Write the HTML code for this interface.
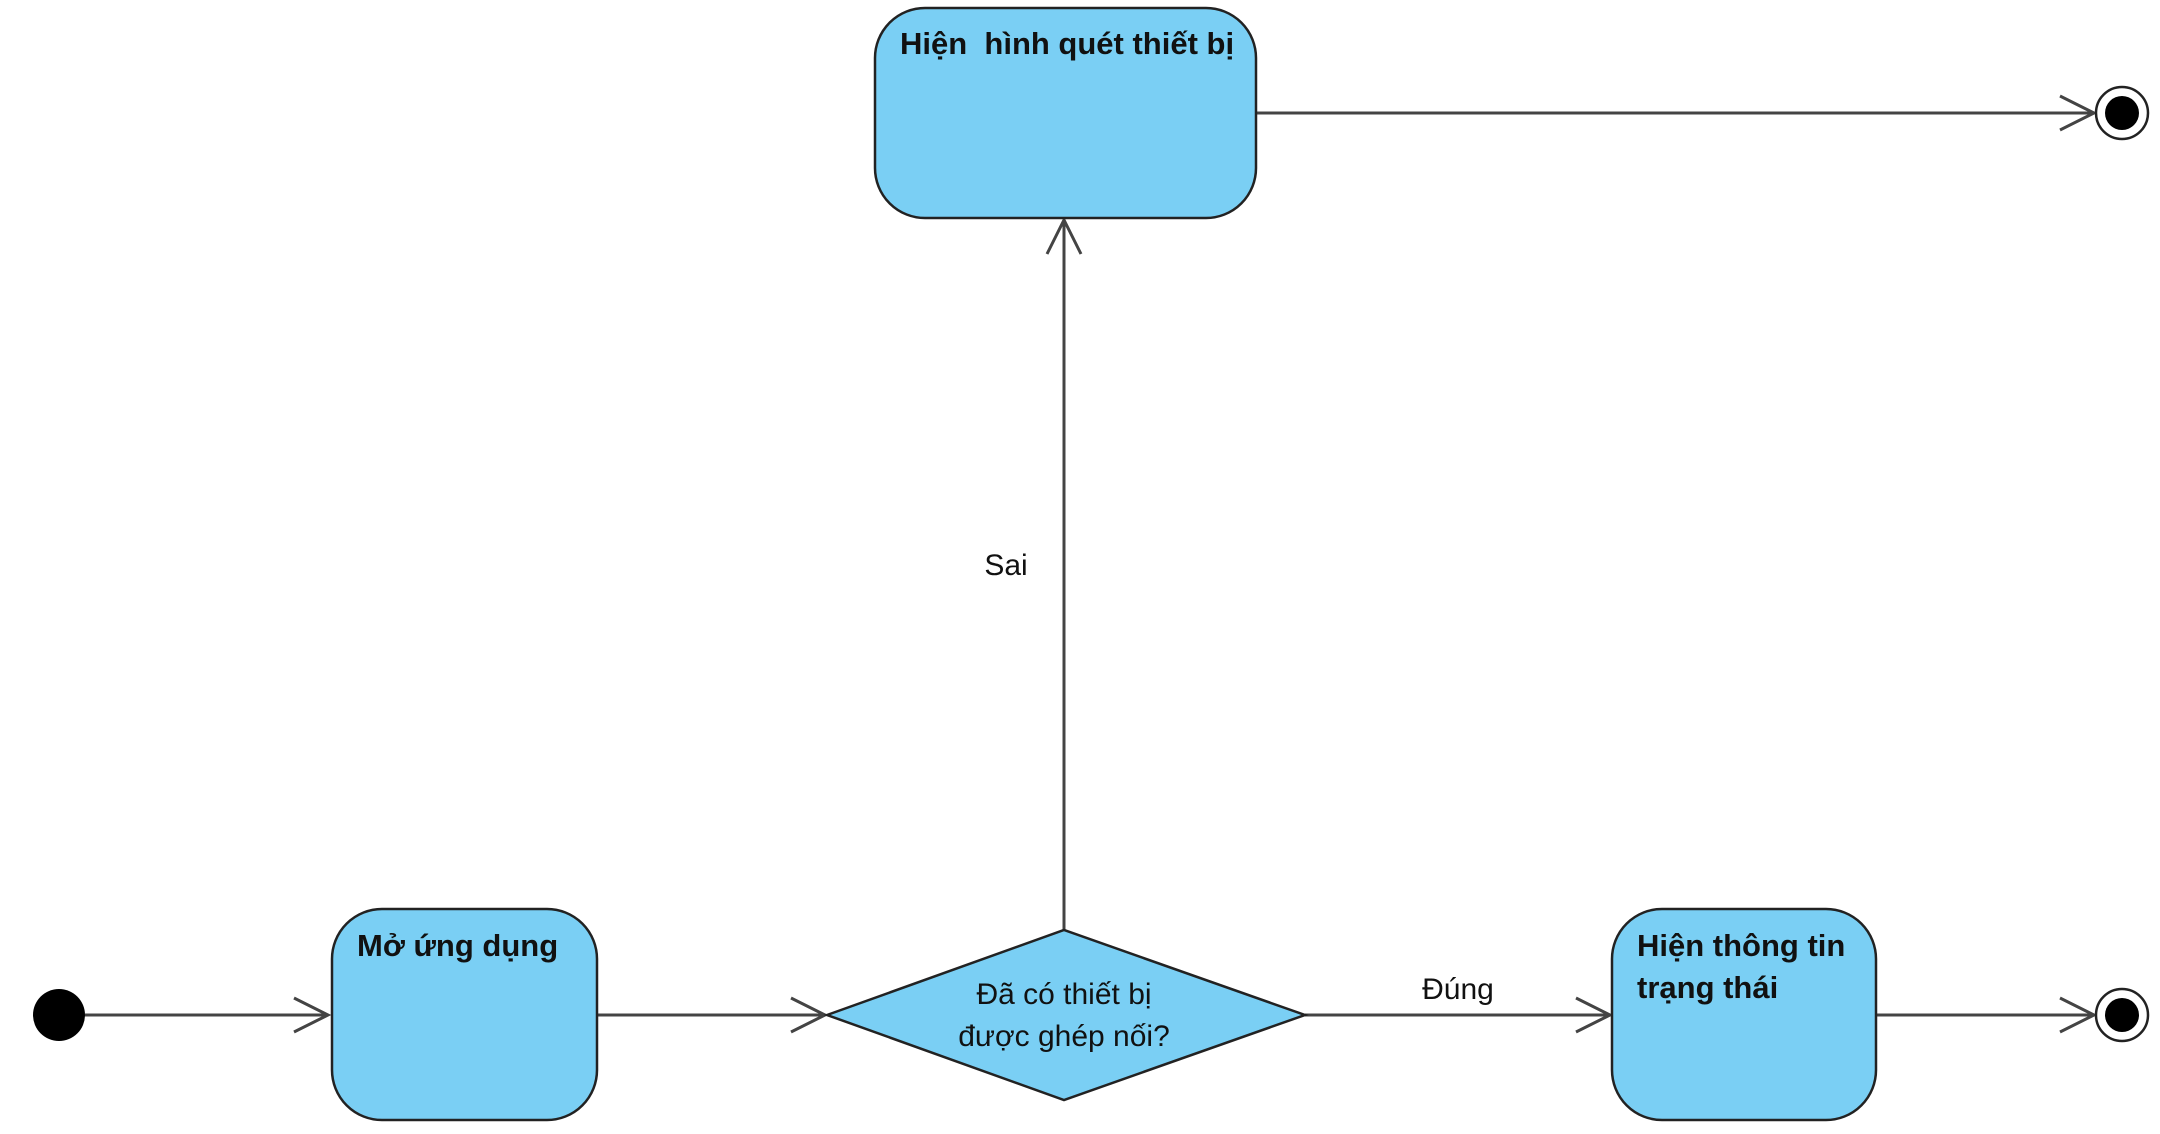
<!DOCTYPE html>
<html><head><meta charset="utf-8"><style>
html,body{margin:0;padding:0;background:#fff;}
svg{display:block;}
text{font-family:"Liberation Sans","DejaVu Sans",sans-serif;fill:#111;}
</style></head><body>
<svg width="2160" height="1134" viewBox="0 0 2160 1134" xmlns="http://www.w3.org/2000/svg">
<g stroke="#444" stroke-width="3" fill="none">
  <line x1="1257" y1="113" x2="2092" y2="113"/>
  <polyline points="2060,96 2094,113 2060,130"/>
  <line x1="1064" y1="930" x2="1064" y2="220"/>
  <polyline points="1047,254 1064,220 1081,254"/>
  <line x1="85" y1="1015" x2="326" y2="1015"/>
  <polyline points="294,998 328,1015 294,1032"/>
  <line x1="597" y1="1015" x2="825" y2="1015"/>
  <polyline points="791,998 825,1015 791,1032"/>
  <line x1="1305" y1="1015" x2="1608" y2="1015"/>
  <polyline points="1576,998 1610,1015 1576,1032"/>
  <line x1="1876" y1="1015" x2="2092" y2="1015"/>
  <polyline points="2060,998 2094,1015 2060,1032"/>
</g>
<rect x="875" y="8" width="381" height="210" rx="50" fill="#7acff4" stroke="#222" stroke-width="2.5"/>
<rect x="332" y="909" width="265" height="211" rx="50" fill="#7acff4" stroke="#222" stroke-width="2.5"/>
<rect x="1612" y="909" width="264" height="211" rx="50" fill="#7acff4" stroke="#222" stroke-width="2.5"/>
<polygon points="827,1015 1064,930 1305,1015 1064,1100" fill="#7acff4" stroke="#222" stroke-width="2.5"/>
<circle cx="59" cy="1015" r="26" fill="#000"/>
<circle cx="2122" cy="113" r="26" fill="#fff" stroke="#222" stroke-width="2.5"/>
<circle cx="2122" cy="113" r="17" fill="#000"/>
<circle cx="2122" cy="1015" r="26" fill="#fff" stroke="#222" stroke-width="2.5"/>
<circle cx="2122" cy="1015" r="17" fill="#000"/>
<text x="900" y="54" font-size="31" font-weight="bold" xml:space="preserve">Hiện  hình quét thiết bị</text>
<text x="357" y="956" font-size="31" font-weight="bold">Mở ứng dụng</text>
<text x="1637" y="956" font-size="31" font-weight="bold">Hiện thông tin</text>
<text x="1637" y="998" font-size="31" font-weight="bold">trạng thái</text>
<text x="1064" y="1004" font-size="30" text-anchor="middle">Đã có thiết bị</text>
<text x="1064" y="1046" font-size="30" text-anchor="middle">được ghép nối?</text>
<text x="1006" y="575" font-size="30" text-anchor="middle">Sai</text>
<text x="1458" y="999" font-size="30" text-anchor="middle">Đúng</text>
</svg>
</body></html>
